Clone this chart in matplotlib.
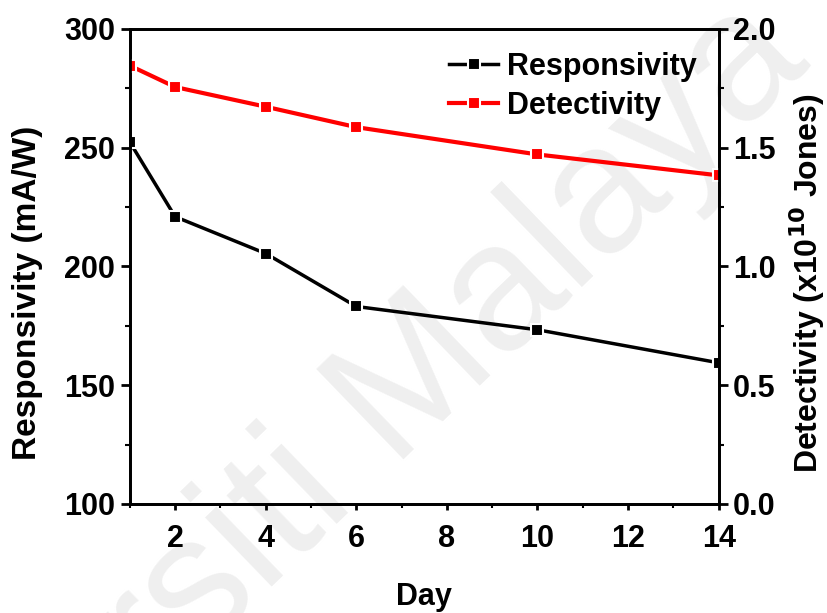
import numpy as np
import matplotlib.pyplot as plt
from matplotlib.ticker import MultipleLocator

plt.rcParams['font.family'] = ['Liberation Sans', 'DejaVu Sans']
plt.rcParams['font.weight'] = 'bold'
plt.rcParams['mathtext.default'] = 'bf'

# photodetector stability over days
days = [1, 2, 4, 6, 10, 14]
responsivity = [252.3, 220.9, 205.4, 183.1, 173.3, 159.4]   # mA/W
detectivity = [1.845, 1.755, 1.672, 1.586, 1.471, 1.383]    # x10^10 Jones

fig = plt.figure(figsize=(8.27, 6.13), dpi=100)
ax = fig.add_axes([0.157, 0.178, 0.712, 0.775])
ax2 = ax.twinx()

# faint watermark behind the plot
fig.text(0.345, 0.17, "Universiti Malaya", fontsize=130, color='#efefef',
         rotation=44, ha='center', va='center', fontweight='normal', zorder=0)
ax.set_zorder(2)
ax2.set_zorder(3)
ax.patch.set_visible(False)

l1, = ax.plot(days, responsivity, '-s', color='black', lw=2.5, ms=9,
              mec='white', mew=1.5, label='Responsivity')
l2, = ax2.plot(days, detectivity, '-s', color='red', lw=3, ms=9,
               mec='white', mew=1.5, label='Detectivity')

ax.set_xlim(1, 14)
ax.set_ylim(100, 300)
ax2.set_ylim(0, 2.0)

ax.set_xticks([2, 4, 6, 8, 10, 12, 14])
ax.xaxis.set_minor_locator(MultipleLocator(1))
ax.set_yticks([100, 150, 200, 250, 300])
ax.yaxis.set_minor_locator(MultipleLocator(25))
ax2.set_yticks([0.0, 0.5, 1.0, 1.5, 2.0])
ax2.yaxis.set_major_formatter(plt.FormatStrFormatter('%.1f'))
ax2.yaxis.set_minor_locator(MultipleLocator(0.25))

for a in (ax, ax2):
    a.tick_params(which='major', direction='out', length=6.5, width=2, labelsize=22, pad=4)
    a.tick_params(which='minor', direction='out', length=3.5, width=1.5)
    for s in a.spines.values():
        s.set_linewidth(2)
ax.tick_params(axis='x', which='major', length=4.5, pad=10)
ax.tick_params(axis='x', which='minor', length=3)

ax.set_xlabel('Day', fontsize=22, fontweight='bold', labelpad=20)
ax.set_ylabel('Responsivity (mA/W)', fontsize=24, fontweight='bold')
ax2.set_ylabel(r'Detectivity (x10$^{10}$ Jones)', fontsize=23, fontweight='bold')
ax.yaxis.set_label_coords(-0.148, 0.444)
ax2.yaxis.set_label_coords(1.117, 0.465)

ax2.legend([l1, l2], ['Responsivity', 'Detectivity'], loc='upper right',
           frameon=False, fontsize=22, handlelength=1.6, handletextpad=0.3,
           labelspacing=0.3, bbox_to_anchor=(1.01, 1.01))

fig.savefig('out.png', dpi=100)
